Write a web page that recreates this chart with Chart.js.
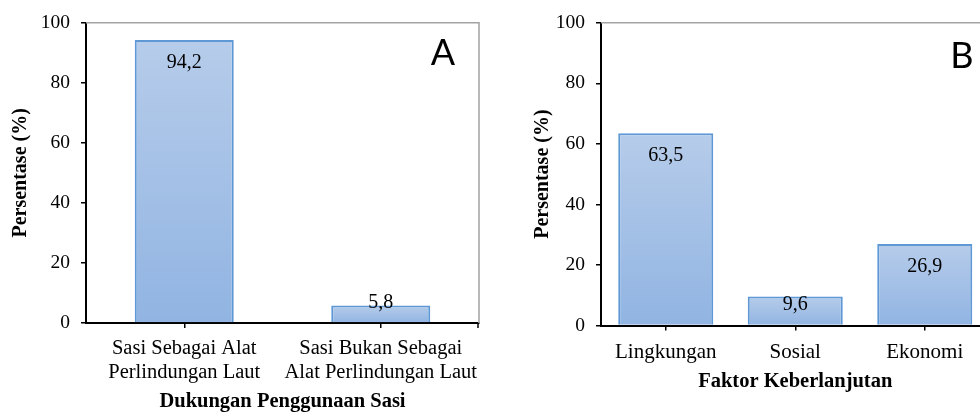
<!DOCTYPE html>
<html>
<head>
<meta charset="utf-8">
<script src="https://cdn.jsdelivr.net/npm/chart.js@4.4.1/dist/chart.umd.min.js"></script>
<style>
  html, body { margin: 0; padding: 0; background: #fff; overflow: hidden; width: 980px; height: 417px; }
  #wrap { position: relative; width: 980px; height: 417px; overflow: hidden; }
  canvas { position: absolute; top: 0; }
  #chartA { left: 0; }
  #chartB { left: 490px; }
</style>
</head>
<body>
<div id="wrap">
  <canvas id="chartA" width="490" height="417"></canvas>
  <canvas id="chartB" width="510" height="417"></canvas>
</div>
<script>
// Panel A: support for using sasi
const supportCategories = [
  ['Sasi Sebagai Alat', 'Perlindungan Laut'],
  ['Sasi Bukan Sebagai', 'Alat Perlindungan Laut']
];
const supportValues = [94.2, 5.8];

// Panel B: sustainability factors
const factorCategories = ['Lingkungan', 'Sosial', 'Ekonomi'];
const factorValues = [63.5, 9.6, 26.9];

// Shared percentage axis
const percentMin = 0;
const percentMax = 100;
const percentStep = 20;

const SERIF = '"Liberation Serif", "Times New Roman", serif';

// Light-to-darker blue gradient per bar, from its top down to the baseline
function barGradient(ctx) {
  const chart = ctx.chart;
  const area = chart.chartArea;
  if (!area || ctx.raw === undefined) return 'rgb(165,193,230)';
  const top = chart.scales.y.getPixelForValue(ctx.raw);
  const g = chart.ctx.createLinearGradient(0, top, 0, area.bottom);
  g.addColorStop(0, 'rgb(182,204,234)');
  g.addColorStop(1, 'rgb(145,180,226)');
  return g;
}

// Thin grey frame on the top and right of the plot area
const framePlugin = {
  id: 'plotFrame',
  afterDraw(chart) {
    const { ctx, chartArea: a } = chart;
    ctx.save();
    ctx.strokeStyle = '#a3a3a3';
    ctx.lineWidth = 1.5;
    ctx.beginPath();
    ctx.moveTo(a.left, a.top);
    ctx.lineTo(a.right, a.top);
    ctx.lineTo(a.right, a.bottom);
    ctx.stroke();
    ctx.strokeStyle = '#000';
    ctx.beginPath();
    ctx.moveTo(a.right - 1, a.bottom);
    ctx.lineTo(a.right - 1, a.bottom + 5);
    ctx.stroke();
    ctx.restore();
  }
};

// Value printed just inside the top of each bar, decimal comma
const valueLabelPlugin = {
  id: 'valueLabels',
  afterDatasetsDraw(chart) {
    const { ctx } = chart;
    const meta = chart.getDatasetMeta(0);
    const values = chart.data.datasets[0].data;
    ctx.save();
    ctx.font = '20px ' + SERIF;
    ctx.fillStyle = '#000';
    ctx.textAlign = 'center';
    ctx.textBaseline = 'middle';
    meta.data.forEach((bar, i) => {
      const cy = Math.min(bar.y + 23, bar.base - 20);
      ctx.fillText(values[i].toFixed(1).replace('.', ','), bar.x, cy);
    });
    ctx.restore();
  }
};

// Panel letter in the upper right corner of the plot area
const panelLetterPlugin = {
  id: 'panelLetter',
  afterDraw(chart, args, opts) {
    const { ctx, chartArea: a } = chart;
    ctx.save();
    ctx.font = '36px "Liberation Sans Narrow", Lato, "Liberation Sans", sans-serif';
    ctx.fillStyle = '#000';
    ctx.textAlign = 'center';
    ctx.textBaseline = 'alphabetic';
    ctx.fillText(opts.text, a.right + opts.dx, a.top + opts.dy);
    ctx.restore();
  }
};

function makeChart(id, labels, values, cfg) {
  return new Chart(document.getElementById(id), {
    type: 'bar',
    data: {
      labels: labels,
      datasets: [{
        data: values,
        backgroundColor: barGradient,
        borderColor: 'rgb(94,153,214)',
        borderWidth: 2,
        borderSkipped: 'bottom',
        categoryPercentage: 1,
        barPercentage: cfg.barPct
      }]
    },
    options: {
      responsive: false,
      animation: false,
      devicePixelRatio: 1,
      layout: { padding: { top: cfg.padTop, right: cfg.padRight, left: 0, bottom: 0 } },
      plugins: {
        legend: { display: false },
        tooltip: { enabled: false },
        panelLetter: cfg.letter
      },
      scales: {
        x: {
          grid: { display: true, offset: false, drawOnChartArea: false, drawTicks: true, tickLength: 5, color: '#000', lineWidth: 1.5 },
          border: { color: '#000', width: 2 },
          ticks: { color: '#000', font: { family: SERIF, size: cfg.xFont, lineHeight: 1.2 }, padding: cfg.xPad, maxRotation: 0, autoSkip: false },
          title: { display: true, text: cfg.xTitle, color: '#000', font: { family: SERIF, size: 20.5, weight: 'bold', lineHeight: 1.2 }, padding: { top: 0, bottom: cfg.xTitlePad } },
          afterFit(scale) { scale.height = cfg.xHeight; }
        },
        y: {
          min: percentMin,
          max: percentMax,
          ticks: { stepSize: percentStep, color: '#000', font: { family: SERIF, size: 19.5 }, padding: 11 },
          grid: { drawOnChartArea: false, drawTicks: true, tickLength: 5, color: '#000', lineWidth: 1.5 },
          border: { color: '#000', width: 2 },
          title: { display: true, text: 'Persentase (%)', color: '#000', font: { family: SERIF, size: 20, weight: 'bold', lineHeight: 1.2 }, padding: { top: cfg.yTitlePad, bottom: 0 } },
          afterFit(scale) { scale.width = cfg.yWidth; }
        }
      }
    },
    plugins: [framePlugin, valueLabelPlugin, panelLetterPlugin]
  });
}

makeChart('chartA', supportCategories, supportValues, {
  barPct: 0.504, padTop: 16, padRight: 11, yWidth: 86, xHeight: 94,
  xFont: 20.5, xPad: 8, xTitle: 'Dukungan Penggunaan Sasi', xTitlePad: 3, yTitlePad: 9,
  letter: { text: 'A', dx: -36, dy: 42 }
});

makeChart('chartB', factorCategories, factorValues, {
  barPct: 0.734, padTop: 21, padRight: 10.5, yWidth: 111, xHeight: 91.5,
  xFont: 21, xPad: 9, xTitle: 'Faktor Keberlanjutan', xTitlePad: 23, yTitlePad: 41,
  letter: { text: 'B', dx: -27.5, dy: 45 }
});
</script>
</body>
</html>
